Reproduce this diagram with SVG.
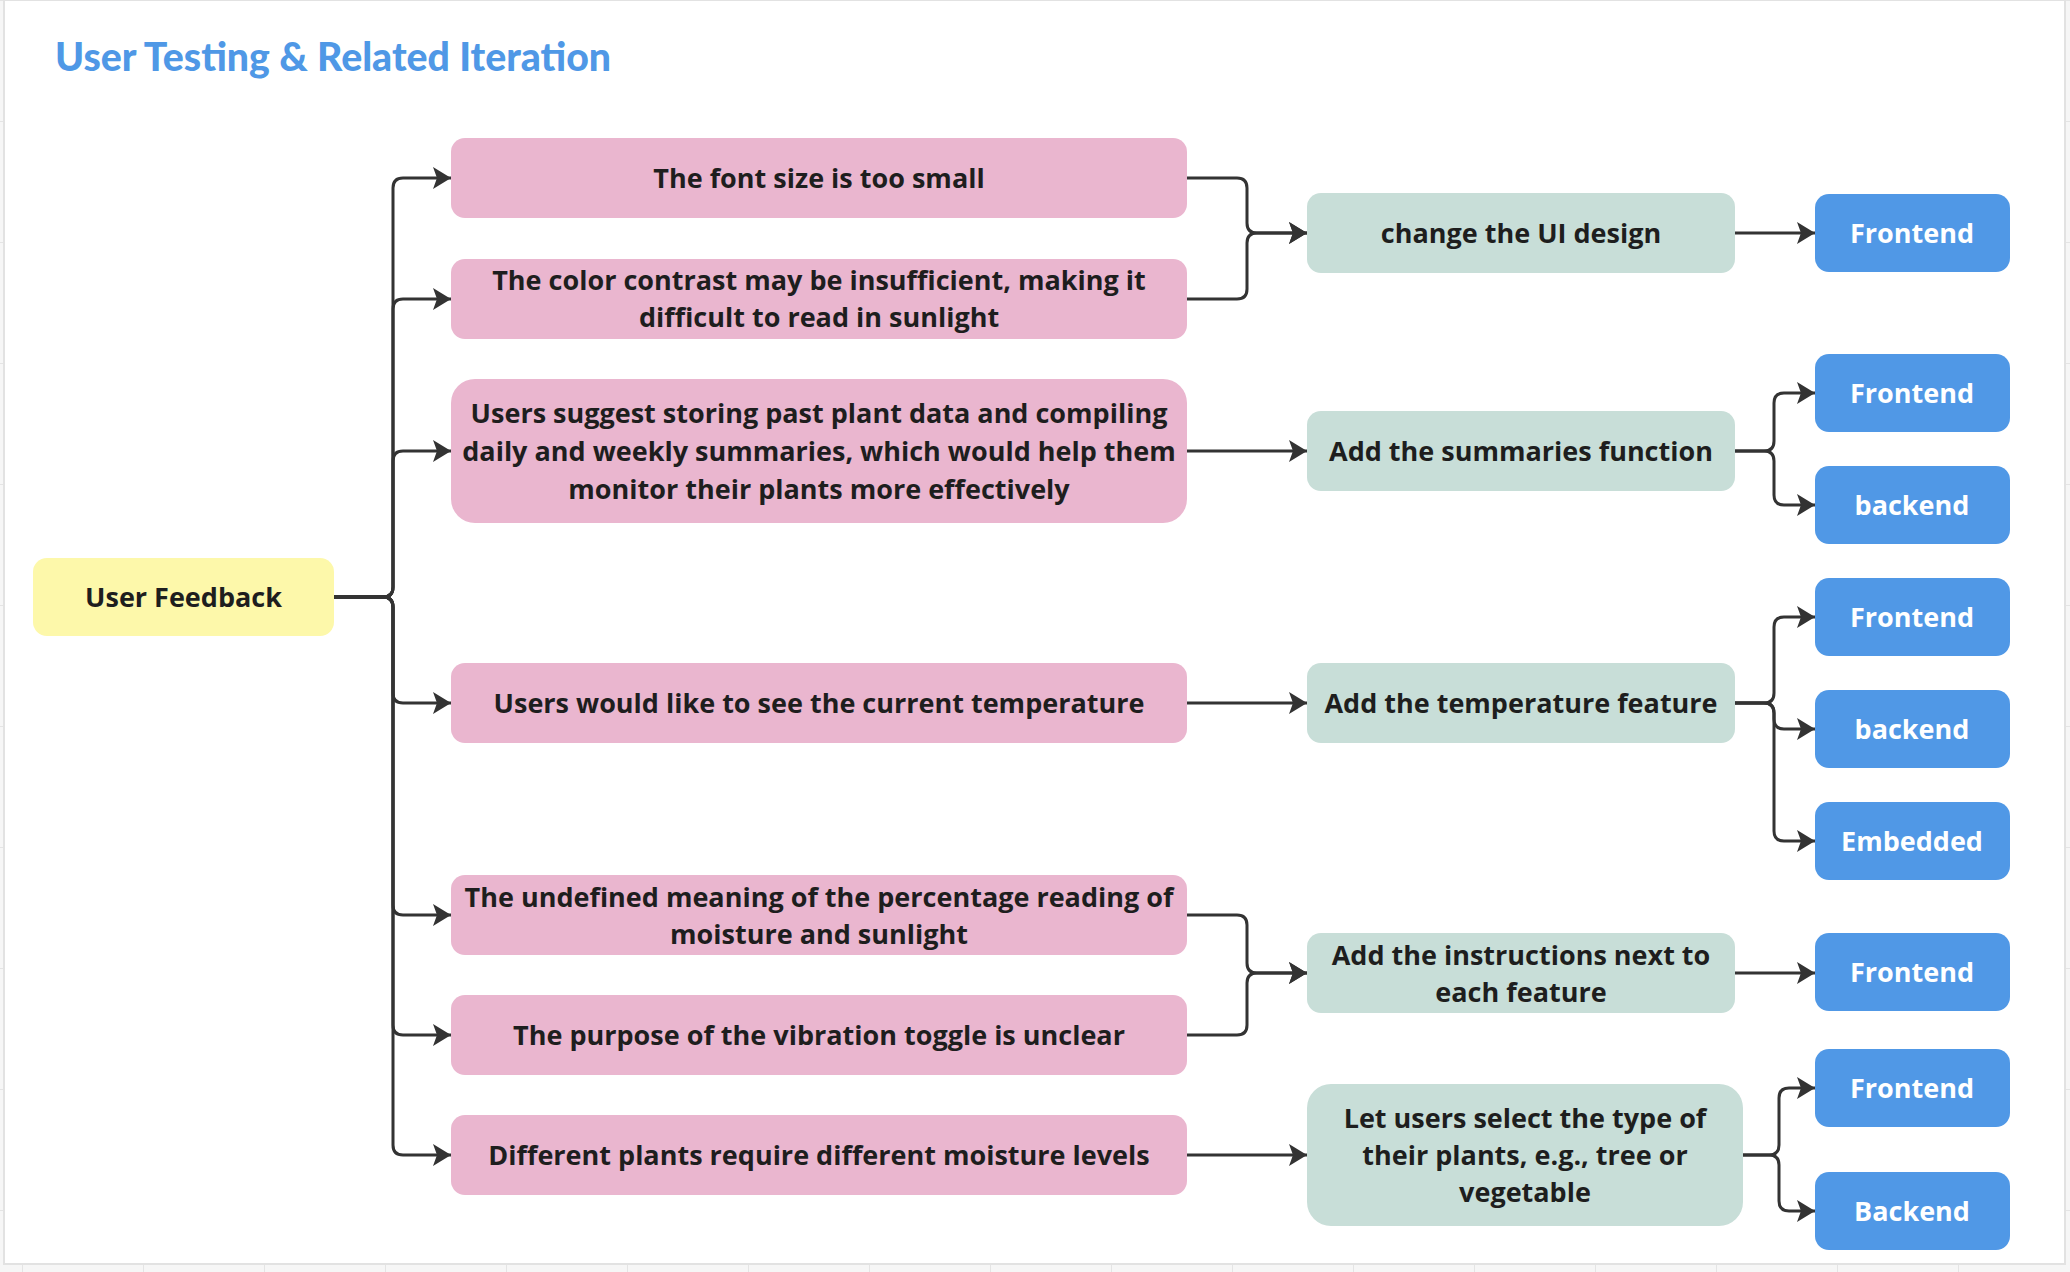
<svg xmlns="http://www.w3.org/2000/svg" width="2070" height="1272" viewBox="0 0 2070 1272">
<defs>
<style>
.t{font-family:"Open Sans","Noto Sans","Liberation Sans",sans-serif;font-weight:700;font-size:27px;fill:#1e1e1e;text-anchor:middle}
.w{fill:#ffffff}
.pink{fill:#eab6cf}
.green{fill:#c8ded8}
.blue{fill:#5098e6}
.yellow{fill:#fdf8aa}
.c{fill:none;stroke:#333333;stroke-width:3;stroke-linejoin:round;marker-end:url(#arr)}
</style>
<marker id="arr" markerUnits="userSpaceOnUse" markerWidth="20" markerHeight="24" refX="18" refY="11" orient="auto" viewBox="0 0 20 24">
<path d="M0,0 L18,11 L0,22 L4,11 Z" fill="#333333"/>
</marker>
<pattern id="grid" width="121" height="121" patternUnits="userSpaceOnUse" x="22" y="0">
<rect width="121" height="121" fill="#f6f6f6"/>
<path d="M0,0 V121 M0,0 H121" stroke="#e4e4e4" stroke-width="2" fill="none"/>
</pattern>
</defs>
<rect x="0" y="0" width="2070" height="1272" fill="url(#grid)"/>
<rect x="4" y="0" width="2061" height="1264" fill="#ffffff" stroke="#e2e2e2" stroke-width="2"/>

<text x="55" y="71" font-family="Lato,'Open Sans',sans-serif" font-weight="900" font-size="39" fill="#4f98e6" textLength="556" lengthAdjust="spacingAndGlyphs">User Testing &amp; Related Iteration</text>

<g id="connectors">
<path class="c" d="M334,597 H383 Q393,597 393,587 V188 Q393,178 403,178 H451"/>
<path class="c" d="M334,597 H383 Q393,597 393,587 V309 Q393,299 403,299 H451"/>
<path class="c" d="M334,597 H383 Q393,597 393,587 V461 Q393,451 403,451 H451"/>
<path class="c" d="M334,597 H383 Q393,597 393,607 V693 Q393,703 403,703 H451"/>
<path class="c" d="M334,597 H383 Q393,597 393,607 V905 Q393,915 403,915 H451"/>
<path class="c" d="M334,597 H383 Q393,597 393,607 V1025 Q393,1035 403,1035 H451"/>
<path class="c" d="M334,597 H383 Q393,597 393,607 V1145 Q393,1155 403,1155 H451"/>

<path class="c" d="M1187,178 H1237 Q1247,178 1247,188 V223 Q1247,233 1257,233 H1307"/>
<path class="c" d="M1187,299 H1237 Q1247,299 1247,289 V243 Q1247,233 1257,233 H1307"/>
<path class="c" d="M1187,451 H1307"/>
<path class="c" d="M1187,703 H1307"/>
<path class="c" d="M1187,915 H1237 Q1247,915 1247,925 V963 Q1247,973 1257,973 H1307"/>
<path class="c" d="M1187,1035 H1237 Q1247,1035 1247,1025 V983 Q1247,973 1257,973 H1307"/>
<path class="c" d="M1187,1155 H1307"/>

<path class="c" d="M1735,233 H1815"/>
<path class="c" d="M1735,451 H1764 Q1774,451 1774,441 V403 Q1774,393 1784,393 H1815"/>
<path class="c" d="M1735,451 H1764 Q1774,451 1774,461 V495 Q1774,505 1784,505 H1815"/>
<path class="c" d="M1735,703 H1764 Q1774,703 1774,693 V627 Q1774,617 1784,617 H1815"/>
<path class="c" d="M1735,703 H1764 Q1774,703 1774,713 V719 Q1774,729 1784,729 H1815"/>
<path class="c" d="M1735,703 H1764 Q1774,703 1774,713 V831 Q1774,841 1784,841 H1815"/>
<path class="c" d="M1735,973 H1815"/>
<path class="c" d="M1743,1155 H1769 Q1779,1155 1779,1145 V1098 Q1779,1088 1789,1088 H1815"/>
<path class="c" d="M1743,1155 H1769 Q1779,1155 1779,1165 V1201 Q1779,1211 1789,1211 H1815"/>
</g>

<g id="user-feedback">
<rect class="yellow" x="33" y="558" width="301" height="78" rx="14"/>
<text class="t" x="183.5" y="607">User Feedback</text>
</g>

<g id="p1">
<rect class="pink" x="451" y="138" width="736" height="80" rx="14"/>
<text class="t" x="819" y="188">The font size is too small</text>
</g>
<g id="p2">
<rect class="pink" x="451" y="259" width="736" height="80" rx="14"/>
<text class="t" x="819" y="290">The color contrast may be insufficient, making it</text>
<text class="t" x="819" y="327">difficult to read in sunlight</text>
</g>
<g id="p3">
<rect class="pink" x="451" y="379" width="736" height="144" rx="24"/>
<text class="t" x="819" y="423">Users suggest storing past plant data and compiling</text>
<text class="t" x="819" y="461">daily and weekly summaries, which would help them</text>
<text class="t" x="819" y="499">monitor their plants more effectively</text>
</g>
<g id="p4">
<rect class="pink" x="451" y="663" width="736" height="80" rx="14"/>
<text class="t" x="819" y="713">Users would like to see the current temperature</text>
</g>
<g id="p5">
<rect class="pink" x="451" y="875" width="736" height="80" rx="14"/>
<text class="t" x="819" y="907">The undefined meaning of the percentage reading of</text>
<text class="t" x="819" y="944">moisture and sunlight</text>
</g>
<g id="p6">
<rect class="pink" x="451" y="995" width="736" height="80" rx="14"/>
<text class="t" x="819" y="1045">The purpose of the vibration toggle is unclear</text>
</g>
<g id="p7">
<rect class="pink" x="451" y="1115" width="736" height="80" rx="14"/>
<text class="t" x="819" y="1165">Different plants require different moisture levels</text>
</g>

<g id="g1">
<rect class="green" x="1307" y="193" width="428" height="80" rx="14"/>
<text class="t" x="1521" y="243">change the UI design</text>
</g>
<g id="g2">
<rect class="green" x="1307" y="411" width="428" height="80" rx="14"/>
<text class="t" x="1521" y="461">Add the summaries function</text>
</g>
<g id="g3">
<rect class="green" x="1307" y="663" width="428" height="80" rx="14"/>
<text class="t" x="1521" y="713">Add the temperature feature</text>
</g>
<g id="g4">
<rect class="green" x="1307" y="933" width="428" height="80" rx="14"/>
<text class="t" x="1521" y="965">Add the instructions next to</text>
<text class="t" x="1521" y="1002">each feature</text>
</g>
<g id="g5">
<rect class="green" x="1307" y="1084" width="436" height="142" rx="24"/>
<text class="t" x="1525" y="1128">Let users select the type of</text>
<text class="t" x="1525" y="1165">their plants, e.g., tree or</text>
<text class="t" x="1525" y="1202">vegetable</text>
</g>

<g id="b1"><rect class="blue" x="1815" y="194" width="195" height="78" rx="14"/><text class="t w" x="1912" y="243">Frontend</text></g>
<g id="b2"><rect class="blue" x="1815" y="354" width="195" height="78" rx="14"/><text class="t w" x="1912" y="403">Frontend</text></g>
<g id="b3"><rect class="blue" x="1815" y="466" width="195" height="78" rx="14"/><text class="t w" x="1912" y="515">backend</text></g>
<g id="b4"><rect class="blue" x="1815" y="578" width="195" height="78" rx="14"/><text class="t w" x="1912" y="627">Frontend</text></g>
<g id="b5"><rect class="blue" x="1815" y="690" width="195" height="78" rx="14"/><text class="t w" x="1912" y="739">backend</text></g>
<g id="b6"><rect class="blue" x="1815" y="802" width="195" height="78" rx="14"/><text class="t w" x="1912" y="851">Embedded</text></g>
<g id="b7"><rect class="blue" x="1815" y="933" width="195" height="78" rx="14"/><text class="t w" x="1912" y="982">Frontend</text></g>
<g id="b8"><rect class="blue" x="1815" y="1049" width="195" height="78" rx="14"/><text class="t w" x="1912" y="1098">Frontend</text></g>
<g id="b9"><rect class="blue" x="1815" y="1172" width="195" height="78" rx="14"/><text class="t w" x="1912" y="1221">Backend</text></g>
</svg>
